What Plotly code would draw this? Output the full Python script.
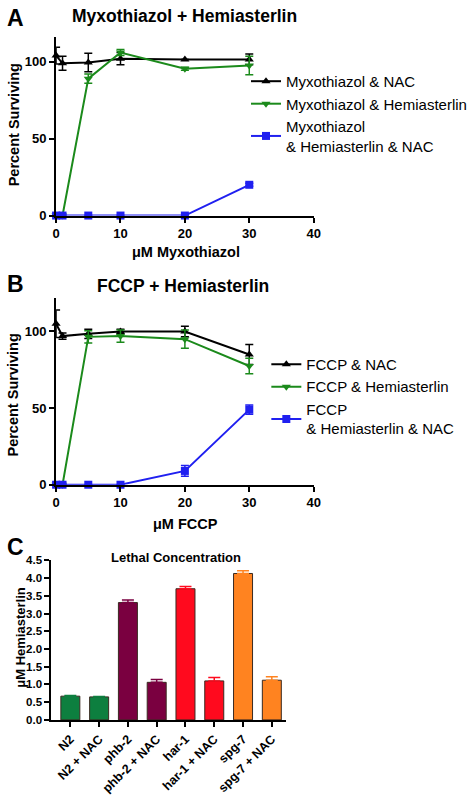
import plotly.graph_objects as go

W, H = 472, 796

# Panel A data
conc_a = [0, 1, 5, 10, 20, 30]
myx_nac = [104, 99, 99.5, 102, 101.5, 101.5]
myx_nac_err = [5.5, 4.5, 6, 4, 0, 3.5]
myx_hemi = [0, 0, 89, 106, 95.5, 97.5]
myx_hemi_err = [0, 0, 3, 2, 1, 6]
myx_hemi_nac = [0, 0, 0, 0, 0, 20]
myx_hemi_nac_err = [0, 0, 0, 0, 0, 1]

# Panel B data
conc_b = [0, 1, 5, 10, 20, 30]
fccp_nac = [105, 97, 98.5, 100, 100, 85]
fccp_nac_err = [9, 2, 3, 1.5, 3.5, 6.5]
fccp_hemi = [0, 0, 96.5, 97, 95, 77.5]
fccp_hemi_err = [0, 0, 4, 4, 6, 5]
fccp_hemi_nac = [0, 0, 0, 0, 9, 49]
fccp_hemi_nac_err = [0, 0, 0, 0, 3.5, 3]

# Panel C data
strains = ["N2", "N2 + NAC", "phb-2", "phb-2 + NAC", "har-1", "har-1 + NAC", "spg-7", "spg-7 + NAC"]
lethal = [0.67, 0.65, 3.31, 1.06, 3.70, 1.10, 4.13, 1.12]
lethal_err = [0.02, 0.01, 0.07, 0.08, 0.06, 0.10, 0.08, 0.10]
bar_colors = ["#0d7f3f", "#7a0040", "#ff0a1e", "#ff8320"]

BLACK = "#000000"
GREEN = "#1b8a1b"
BLUE = "#2020f0"
FONT = "Liberation Sans"

fig = go.Figure()

def add_line(x, y, err, name, color, symbol, xa, ya, legend):
    fig.add_trace(go.Scatter(
        x=x, y=y, name=name, mode="lines+markers",
        line=dict(color=color, width=2),
        marker=dict(symbol=symbol, size=8, color=color),
        error_y=dict(type="data", array=err, visible=True, color=color, thickness=1.5, width=4),
        xaxis=xa, yaxis=ya, legend=legend, cliponaxis=False,
    ))

add_line(conc_a, myx_nac, myx_nac_err, "Myxothiazol & NAC", BLACK, "triangle-up", "x", "y", "legend")
add_line(conc_a, myx_hemi, myx_hemi_err, "Myxothiazol & Hemiasterlin", GREEN, "triangle-down", "x", "y", "legend")
add_line(conc_a, myx_hemi_nac, myx_hemi_nac_err, "Myxothiazol<br>& Hemiasterlin & NAC", BLUE, "square", "x", "y", "legend")

add_line(conc_b, fccp_nac, fccp_nac_err, "FCCP & NAC", BLACK, "triangle-up", "x2", "y2", "legend2")
add_line(conc_b, fccp_hemi, fccp_hemi_err, "FCCP & Hemiasterlin", GREEN, "triangle-down", "x2", "y2", "legend2")
add_line(conc_b, fccp_hemi_nac, fccp_hemi_nac_err, "FCCP<br>& Hemiasterlin & NAC", BLUE, "square", "x2", "y2", "legend2")

for i in range(4):
    xs = strains[2 * i:2 * i + 2]
    ys = lethal[2 * i:2 * i + 2]
    es = lethal_err[2 * i:2 * i + 2]
    fig.add_trace(go.Bar(
        x=xs, y=ys, marker=dict(color=bar_colors[i], line=dict(color="#3a2a20", width=1)),
        error_y=dict(type="data", array=es, arrayminus=[0, 0], symmetric=False,
                     color=bar_colors[i], thickness=1.5, width=6),
        xaxis="x3", yaxis="y3", showlegend=False,
    ))

def px_x(p):
    return p / W

def px_y(p):
    return 1 - p / H

def axis_style(size):
    return dict(showgrid=False, zeroline=False, showline=True, linecolor="black", linewidth=2,
                ticks="outside", ticklen=5, tickwidth=2, tickcolor="black",
                tickfont=dict(family=FONT, size=size, color="black", weight="bold"))

fig.update_layout(
    width=W, height=H, margin=dict(l=0, r=0, t=0, b=0),
    paper_bgcolor="white", plot_bgcolor="white",
    font=dict(family=FONT, color="black"),
    barmode="overlay", bargap=0.34,
    xaxis=dict(domain=[px_x(55), px_x(327)], range=[0, 40], tickvals=[0, 10, 20, 30, 40],
               anchor="y", **axis_style(13)),
    yaxis=dict(domain=[px_y(213.3), px_y(32)], range=[0, 115.8], tickvals=[0, 50, 100],
               anchor="x", **axis_style(13)),
    xaxis2=dict(domain=[px_x(55), px_x(327)], range=[0, 40], tickvals=[0, 10, 20, 30, 40],
                anchor="y2", **axis_style(13)),
    yaxis2=dict(domain=[px_y(487.3), px_y(297)], range=[0, 122], tickvals=[0, 50, 100],
                anchor="x2", **axis_style(13)),
    xaxis3=dict(domain=[px_x(50), px_x(298)], range=[-0.66, 7.5], type="category",
                categoryorder="array", categoryarray=strains, tickangle=-45,
                anchor="y3", **axis_style(12.5)),
    yaxis3=dict(domain=[px_y(726.7), px_y(564.3)], range=[0, 4.5], dtick=0.5, tickformat=".1f",
                anchor="x3", **axis_style(11.5)),
    legend=dict(x=px_x(256), y=px_y(60), xanchor="left", yanchor="top",
                font=dict(family=FONT, size=15, color="black"), bgcolor="rgba(0,0,0,0)",
                itemwidth=30),
    legend2=dict(x=px_x(277), y=px_y(348), xanchor="left", yanchor="top",
                 font=dict(family=FONT, size=15, color="black"), bgcolor="rgba(0,0,0,0)",
                 itemwidth=30),
    hovermode=False,
)

ann = []
def text(x, y, s, size, bold=True, angle=0):
    ann.append(dict(x=px_x(x), y=px_y(y), xref="paper", yref="paper", text=s, showarrow=False,
                    xanchor="center", yanchor="middle", textangle=angle,
                    font=dict(family=FONT, size=size, color="black", weight="bold" if bold else "normal")))

text(12, 12, "A", 23)
text(191, 10, "Myxothiazol + Hemiasterlin", 17.5)
text(192, 250, "μM Myxothiazol", 14.5)
text(10, 121, "Percent Surviving", 14.5, angle=-90)

text(12, 283, "B", 23)
text(189, 285, "FCCP + Hemiasterlin", 17.5)
text(192, 527, "μM FCCP", 14.5)
text(10, 396, "Percent Surviving", 14.5, angle=-90)

text(12, 551, "C", 23)
text(182, 561, "Lethal Concentration", 13)
text(18, 643, "μM Hemiasterlin", 13, angle=-90)

fig.update_layout(annotations=ann)

fig.write_html("out.html", config={"displayModeBar": False},
               post_script="document.body.style.margin='0';")
